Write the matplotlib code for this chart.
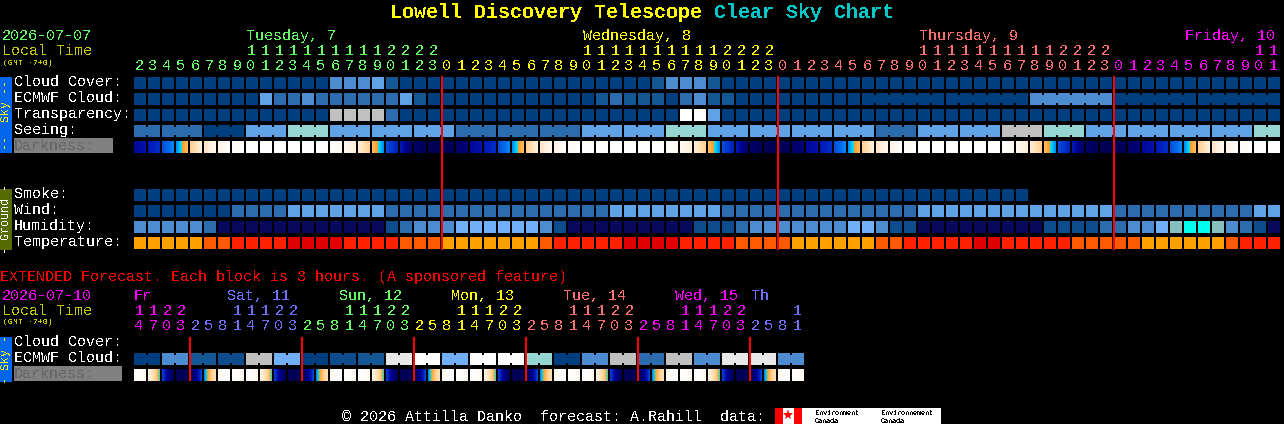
import numpy as np
import matplotlib
matplotlib.use("Agg")
import matplotlib.pyplot as plt
from matplotlib.colors import LinearSegmentedColormap

plt.rcParams['font.family'] = ['Liberation Mono', 'DejaVu Sans Mono']
plt.rcParams['text.antialiased'] = False
plt.rcParams['text.hinting'] = 'native'
plt.rcParams['text.hinting_factor'] = 1

# block colours, rows below hold indexes into this
blues = ['#003f7f', '#135794', '#2b6cae', '#4c8dd2', '#60a2e6', '#c0c0c0', '#e8e8e8', '#ffffff',
         '#95d5d2', '#08085c', '#00ffee', '#70b0f8', '#85bfbf', '#0d4d8d']
temps = ['#ffa000', '#ff5a00', '#ff2000', '#e00000']

hours = list(range(2, 24)) + list(range(24)) + list(range(24)) + list(range(12))
hour_day = [0] * 22 + [1] * 24 + [2] * 24 + [3] * 12
day_colors = ['#66ff66', '#ffff00', '#ff7070', '#ff00ff']
day_names = ['Tuesday, 7', 'Wednesday, 8', 'Thursday, 9', 'Friday, 10']
day_name_x = [246, 583, 919, 1185]

cloud = [0,0,0,0,0,0,0,0,0,0,0,0,0,0,3,3,3,4,1,0,0,0,
         0,0,0,0,0,0,0,0,0,0,0,0,0,0,0,1,3,3,3,1,0,0,0,0,
         0,0,0,0,0,0,0,0,0,0,0,0,0,0,0,0,0,0,0,0,0,0,0,0,
         0,0,0,0,0,0,0,0,0,0,0,0]
ecmwf = [0,0,0,0,0,0,0,0,0,4,2,2,3,2,2,2,2,2,2,4,1,0,
         0,0,0,0,0,0,0,0,0,0,0,1,2,1,1,1,0,2,3,1,1,0,0,0,
         0,0,0,0,0,0,0,0,0,0,0,0,0,0,0,0,0,0,3,3,3,3,3,3,
         0,0,0,0,0,0,0,0,0,0,0,0]
ecmwf_joined_from = 52
transparency = [0,0,0,0,0,0,0,0,0,0,0,0,0,0,5,5,5,5,2,0,0,0,
                0,0,0,0,0,0,0,0,0,0,0,0,0,0,0,0,0,7,7,4,0,0,0,0,
                0,0,0,0,0,0,0,0,0,0,0,0,0,0,0,0,0,0,0,0,0,0,0,0,
                0,0,0,0,0,0,0,0,0,0,0,0]
# seeing comes in 3 hour groups, first and last have 2 blocks
seeing_groups = [2,2,0,4,8,4,4,4,2,2,2,4,4,8,4,4,4,4,2,4,4,5,8,4,4,4,4,8]
smoke_blocks = 64
wind = [0,0,0,0,0,0,0,2,2,2,2,4,4,4,4,4,4,4,2,2,2,2,
        2,2,2,2,2,2,2,2,2,2,2,2,4,4,4,4,4,4,4,4,2,2,2,2,
        2,2,2,2,2,2,2,2,2,2,4,4,4,4,4,4,4,4,4,4,4,4,4,4,
        2,2,2,2,2,2,2,2,2,2,4,4]
humidity = [3,3,3,3,3,2,9,9,9,9,9,9,9,9,9,9,9,9,13,2,3,3,
            3,11,11,11,11,11,11,3,13,9,9,9,9,9,9,9,9,9,13,13,13,2,3,3,
            3,3,3,3,3,11,11,3,13,13,9,9,9,9,9,9,9,9,9,13,13,13,13,2,
            2,3,3,11,12,10,10,12,3,2,13,9]
temperature = [0,0,0,0,0,1,1,2,2,2,2,3,3,3,3,2,2,2,2,1,1,1,
               0,0,0,0,0,0,0,1,2,2,2,2,2,3,3,3,3,2,2,2,2,1,1,1,
               1,0,0,0,0,0,0,1,1,2,2,2,2,2,3,3,2,2,2,2,2,1,1,1,
               1,1,0,0,0,0,0,0,1,2,2,2]

# darkness by hour of day, value at left and right edge of the block
dark_left = [.03,.08,.22,.28,.36,.42,.60,.72,.85,.95,1,1,1,1,1,1,1,.92,.78,.56,.36,.28,.08,.04]
dark_right = [.05,.12,.26,.32,.42,.56,.80,.90,.98,1,1,1,1,1,1,1,.90,.78,.60,.42,.30,.10,.04,.02]

# extended forecast
ext_hours = [14,17,20,23, 2,5,8,11,14,17,20,23, 2,5,8,11,14,17,20,23, 2,5,8,11,
             14,17,20,23, 2,5,8,11,14,17,20,23, 2,5,8,11,14,17,20,23, 2,5,8,11]
ext_day = [0]*4 + [1]*8 + [2]*8 + [3]*8 + [4]*8 + [5]*8 + [6]*4
ext_day_colors = ['#ff00ff', '#7070ff', '#66ff66', '#ffff00', '#ff7070', '#ff00ff', '#7070ff']
ext_day_names = ['Fr', 'Sat, 11', 'Sun, 12', 'Mon, 13', 'Tue, 14', 'Wed, 15', 'Th']
ext_day_x = [134, 227, 339, 451, 563, 675, 751]
ext_ecmwf = [0,3,1,13,5,11,0,13,1,6,7,11,7,7,8,0,3,5,2,5,3,6,6,3]
ext_dark_hours = [14,17,20,23,2,5,8,11]
ext_dark_left = [1,.85,.35,.02,.03,.42,.90,1]
ext_dark_right = [.92,.48,.02,.02,.35,.70,1,.92]

row_y = {'cloud': 77, 'ecmwf': 93, 'transparency': 109, 'seeing': 125, 'darkness': 141,
         'smoke': 189, 'wind': 205, 'humidity': 221, 'temperature': 237}
X0 = 134
PITCH = 14
SIZE = 12

dark_cmap = LinearSegmentedColormap.from_list('dark', [
    (0, '#00004f'), (.2, '#000090'), (.3, '#0020c0'), (.4, '#0070f0'), (.48, '#00e0ff'),
    (.5, '#ffa020'), (.6, '#ffd090'), (.8, '#fff0dd'), (1, '#ffffff')])

fig = plt.figure(figsize=(12.84, 4.24), dpi=100, facecolor='black')
ax = fig.add_axes([0, 0, 1, 1])
ax.set_facecolor('black')


def row(values, y, colors):
    xs = X0 + PITCH * np.arange(len(values))
    ax.bar(xs, SIZE, SIZE, y, align='edge', color=[colors[v] for v in values], linewidth=0)


def join(i, y, color, x0=X0):
    # narrow bridge between two blocks of one group
    ax.bar(x0 + PITCH * i + SIZE, 8, PITCH - SIZE, y + 2, align='edge', color=color, linewidth=0)


def dark_block(x, y, left, right):
    grad = np.linspace(left, right, SIZE).reshape(1, -1)
    ax.imshow(grad, extent=(x, x + SIZE, y + SIZE, y), cmap=dark_cmap, vmin=0, vmax=1,
              aspect='auto', interpolation='nearest', zorder=2)


def label(x, y, s, color='white', size=10.8, **kw):
    ax.text(x, y, s, color=color, fontsize=size, va='baseline', ha=kw.pop('ha', 'left'), **kw)


# main rows
row(cloud, row_y['cloud'], blues)
row(ecmwf, row_y['ecmwf'], blues)
for i in range(ecmwf_joined_from, len(ecmwf) - 1):
    if (i - ecmwf_joined_from) % 6 != 5:
        join(i, row_y['ecmwf'], blues[ecmwf[i]])
row(transparency, row_y['transparency'], blues)

start = 0
for n, g in enumerate(seeing_groups):
    count = 2 if n in (0, len(seeing_groups) - 1) else 3
    xs = X0 + PITCH * (start + np.arange(count))
    ax.bar(xs, SIZE, SIZE, row_y['seeing'], align='edge', color=blues[g], linewidth=0)
    for i in range(start, start + count - 1):
        join(i, row_y['seeing'], blues[g])
    start += count

for i, h in enumerate(hours):
    dark_block(X0 + PITCH * i, row_y['darkness'], dark_left[h], dark_right[h])

row([0] * smoke_blocks, row_y['smoke'], blues)
row(wind, row_y['wind'], blues)
row(humidity, row_y['humidity'], blues)
row(temperature, row_y['temperature'], temps)

# midnight lines
for i, h in enumerate(hours):
    if h == 0:
        ax.bar(X0 + PITCH * i - 1, 174, 2, 76, align='edge', color='#ff0000', linewidth=0, zorder=3)

# title
ax.text(390, 18, 'Lowell Discovery Telescope', color='#ffff00', fontsize=14.4, fontweight='bold', va='baseline')
ax.text(714, 18, 'Clear Sky Chart', color='#00c8c8', fontsize=14.4, fontweight='bold', va='baseline')

# header
label(2, 40, '2026-07-07', day_colors[0])
label(2, 55, 'Local Time', '#c8c800')
label(3, 65, '(GMT -7+0)', '#c8c800', size=5.7)
for name, x, c in zip(day_names, day_name_x, day_colors):
    label(x, 40, name, c)
for i, h in enumerate(hours):
    x = X0 + PITCH * i + 5
    c = day_colors[hour_day[i]]
    if h >= 10:
        label(x, 55, str(h // 10), c, ha='center')
    label(x, 70, str(h % 10), c, ha='center')

# row names
for name, y in [('Cloud Cover:', 86), ('ECMWF Cloud:', 102), ('Transparency:', 118), ('Seeing:', 134),
                ('Smoke:', 198), ('Wind:', 214), ('Humidity:', 230), ('Temperature:', 246)]:
    label(14, y, name)
ax.bar(14, 15, 99, 138, align='edge', color='#808080', linewidth=0)
label(14, 150, 'Darkness:', '#666666')

# side bars
ax.bar(0, 76, 12, 77, align='edge', color='#0066ee', linewidth=0)
ax.text(6, 115, '--  Sky --', color='#ffff00', fontsize=8.5, rotation=90, ha='center', va='center')
ax.bar(0, 61, 12, 189, align='edge', color='#556b00', linewidth=0)
ax.text(6, 219, '- Ground -', color='white', fontsize=8.5, rotation=90, ha='center', va='center')

# extended forecast
label(0, 281, 'EXTENDED Forecast. Each block is 3 hours. (A sponsored feature)', '#ff0000')
label(2, 300, '2026-07-10', '#ff00ff')
label(2, 315, 'Local Time', '#c8c800')
label(3, 324, '(GMT -7+0)', '#c8c800', size=5.7)
for name, x, c in zip(ext_day_names, ext_day_x, ext_day_colors):
    label(x, 300, name, c)
for i, h in enumerate(ext_hours):
    x = X0 + PITCH * i + 5
    c = ext_day_colors[ext_day[i]]
    if h >= 10:
        label(x, 315, str(h // 10), c, ha='center')
    label(x, 330, str(h % 10), c, ha='center')

label(14, 346, 'Cloud Cover:')
label(14, 362, 'ECMWF Cloud:')
ax.bar(14, 15, 108, 366, align='edge', color='#808080', linewidth=0)
label(14, 378, 'Darkness:', '#666666')
ax.bar(0, 45, 12, 337, align='edge', color='#0066ee', linewidth=0)
ax.text(6, 359, '- Sky -', color='#ffff00', fontsize=8.5, rotation=90, ha='center', va='center')

for g, v in enumerate(ext_ecmwf):
    xs = X0 + PITCH * (2 * g + np.arange(2))
    ax.bar(xs, SIZE, SIZE, 353, align='edge', color=blues[v], linewidth=0)
    join(2 * g, 353, blues[v])
for i, h in enumerate(ext_hours):
    k = ext_dark_hours.index(h)
    dark_block(X0 + PITCH * i, 369, ext_dark_left[k], ext_dark_right[k])
for i, h in enumerate(ext_hours):
    if i > 0 and h < ext_hours[i - 1]:
        ax.bar(X0 + PITCH * i - 1, 44, 2, 337, align='edge', color='#ff0000', linewidth=0, zorder=3)

# footer and logo
label(342, 421, '\u00a9 2026 Attilla Danko  forecast: A.Rahill  data:')
ax.bar(775, 16, 166, 408, align='edge', color='white', linewidth=0)
ax.bar([775, 794], 16, 8, 408, align='edge', color='#ff0000', linewidth=0)
ax.plot([788], [415], marker='*', color='#ff0000', markersize=8, markeredgewidth=0)
for x, word in [(815, 'Environment'), (881, 'Environnement')]:
    ax.text(x, 415, word, color='black', fontsize=5.4, va='baseline')
    ax.text(x, 423, 'Canada', color='black', fontsize=5.4, va='baseline')

ax.set_xlim(0, 1284)
ax.set_ylim(424, 0)
ax.axis('off')
fig.savefig('out.png', dpi=100, facecolor='black')
